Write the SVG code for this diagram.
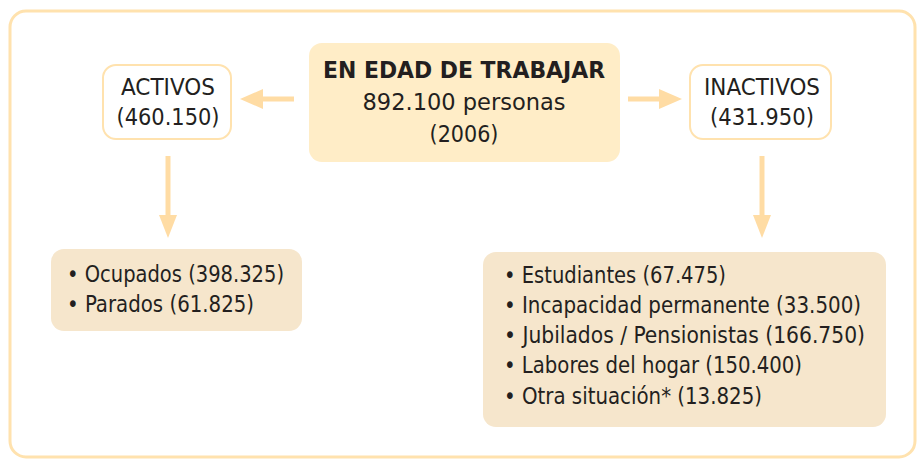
<svg xmlns="http://www.w3.org/2000/svg" width="918" height="459" viewBox="0 0 918 459">
<style>
text{font-family:"DejaVu Sans Condensed","DejaVu Sans",sans-serif;font-size:23px;fill:#231f20}
.c{text-anchor:middle}
.b{font-weight:bold}
.con{stroke:#ffdca4;stroke-width:5;fill:none}
.head{fill:#ffdca4}
</style>
<rect x="10" y="11" width="905" height="446" rx="16" fill="#fff" stroke="#ffe2ae" stroke-width="3"/>
<g id="center">
<rect x="309" y="43" width="311" height="119" rx="13" fill="#ffedc7"/>
<text class="c b" x="464" y="78" textLength="282" lengthAdjust="spacingAndGlyphs">EN EDAD DE TRABAJAR</text>
<text class="c" x="464" y="110" textLength="203" lengthAdjust="spacingAndGlyphs">892.100 personas</text>
<text class="c" x="464" y="142">(2006)</text>
</g>
<g id="activos">
<rect x="103" y="65" width="128" height="74" rx="13" fill="#fff" stroke="#ffe2ae" stroke-width="2"/>
<text class="c" x="168" y="95" textLength="94" lengthAdjust="spacingAndGlyphs">ACTIVOS</text>
<text class="c" x="168" y="125" textLength="103" lengthAdjust="spacingAndGlyphs">(460.150)</text>
</g>
<g id="inactivos">
<rect x="690" y="65" width="141" height="74" rx="13" fill="#fff" stroke="#ffe2ae" stroke-width="2"/>
<text class="c" x="762" y="95" textLength="116" lengthAdjust="spacingAndGlyphs">INACTIVOS</text>
<text class="c" x="762" y="125" textLength="104" lengthAdjust="spacingAndGlyphs">(431.950)</text>
</g>
<g id="activos-list">
<rect x="51" y="249" width="251" height="82" rx="13" fill="#f6e6cc"/>
<text x="67" y="282" textLength="217" lengthAdjust="spacingAndGlyphs">• Ocupados (398.325)</text>
<text x="67" y="312" textLength="187" lengthAdjust="spacingAndGlyphs">• Parados (61.825)</text>
</g>
<g id="inactivos-list">
<rect x="483" y="252" width="403" height="175" rx="13" fill="#f6e6cc"/>
<text x="504" y="283" textLength="222" lengthAdjust="spacingAndGlyphs">• Estudiantes (67.475)</text>
<text x="504" y="313" textLength="357" lengthAdjust="spacingAndGlyphs">• Incapacidad permanente (33.500)</text>
<text x="504" y="343" textLength="361" lengthAdjust="spacingAndGlyphs">• Jubilados / Pensionistas (166.750)</text>
<text x="504" y="373" textLength="298" lengthAdjust="spacingAndGlyphs">• Labores del hogar (150.400)</text>
<text x="504" y="404" textLength="258" lengthAdjust="spacingAndGlyphs">• Otra situación* (13.825)</text>
</g>
<g id="connectors">
<line class="con" x1="294" y1="99" x2="260" y2="99"/>
<polygon class="head" points="240,99 263,89 263,109"/>
<line class="con" x1="628" y1="99" x2="662" y2="99"/>
<polygon class="head" points="682,99 659,89 659,109"/>
<line class="con" x1="168" y1="156" x2="168" y2="218"/>
<polygon class="head" points="168,238 159,215 177,215"/>
<line class="con" x1="762" y1="156" x2="762" y2="218"/>
<polygon class="head" points="762,238 753,215 771,215"/>
</g>
</svg>
